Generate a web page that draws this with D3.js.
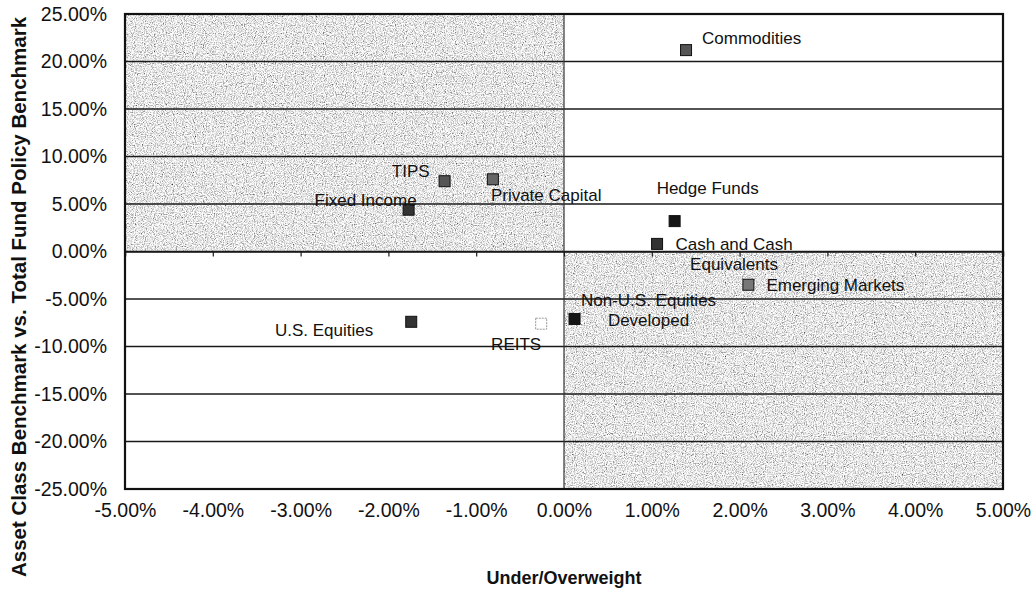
<!DOCTYPE html>
<html>
<head>
<meta charset="utf-8">
<title>Under/Overweight scatter</title>
<script src="https://d3js.org/d3.v7.min.js"></script>
<style>
  body { margin: 0; background: #fff; }
  text { font-family: "Liberation Sans", Arial, sans-serif; fill: #111; }
</style>
</head>
<body>
<script>

    // data (percent)
    const assetNames = ["Commodities", "TIPS", "Private Capital", "Fixed Income", "Hedge Funds",
        "Cash and Cash Equivalents", "Emerging Markets", "Non-U.S. Equities Developed",
        "U.S. Equities", "REITS"];
    const underOverweight = [1.39, -1.36, -0.81, -1.77, 1.26, 1.06, 2.10, 0.12, -1.74, -0.26];
    const vsPolicy = [21.2, 7.4, 7.6, 4.4, 3.2, 0.8, -3.5, -7.1, -7.4, -7.6];
    const yTicks = [-25, -20, -15, -10, -5, 0, 5, 10, 15, 20, 25];
    const xTicks = [-5, -4, -3, -2, -1, 0, 1, 2, 3, 4, 5];

    // label layout (offsets from the marker, px)
    const labelLayout = [
        {lines: ["Commodities"], dx: 16, dy: -12, anchor: "start"},
        {lines: ["TIPS"], dx: -15, dy: -10, anchor: "end"},
        {lines: ["Private Capital"], dx: -2, dy: 16, anchor: "start"},
        {lines: ["Fixed Income"], dx: 8, dy: -9, anchor: "end"},
        {lines: ["Hedge Funds"], dx: -18, dy: -33, anchor: "start"},
        {lines: ["Cash and Cash", "Equivalents"], dx: 77, dy: 1, anchor: "middle"},
        {lines: ["Emerging Markets"], dx: 18, dy: 1, anchor: "start"},
        {lines: ["Non-U.S. Equities", "Developed"], dx: 74, dy: -18, anchor: "middle"},
        {lines: ["U.S. Equities"], dx: -38, dy: 9, anchor: "end"},
        {lines: ["REITS"], dx: 0, dy: 21, anchor: "end"}
    ];
    const markerFill = ["#555", "#555", "#666", "#333", "#151515", "#333", "#777", "#151515", "#333", "#fff"];

    const width = 1031;
    const height = 592;
    const plotL = 125, plotR = 1003, plotT = 14, plotB = 489;

    const x = d3.scaleLinear().domain([-5, 5]).range([plotL, plotR]);
    const y = d3.scaleLinear().domain([-25, 25]).range([plotB, plotT]);
    const pct = d => d.toFixed(2) + "%";

    const svg = d3.select("body").append("svg")
        .attr("width", width)
        .attr("height", height);

    const defs = svg.append("defs");
    const f = defs.append("filter").attr("id", "grain")
        .attr("x", 0).attr("y", 0).attr("width", 1).attr("height", 1);
    f.append("feTurbulence").attr("type", "fractalNoise").attr("baseFrequency", 0.9)
        .attr("numOctaves", 2).attr("seed", 4).attr("result", "n");
    f.append("feColorMatrix").attr("in", "n").attr("type", "matrix")
        .attr("values", "1.9 0 0 0 -0.16  1.9 0 0 0 -0.16  1.9 0 0 0 -0.16  0 0 0 0 1")
        .attr("result", "g");
    f.append("feComposite").attr("in", "g").attr("in2", "SourceGraphic").attr("operator", "in");

    // shaded quadrants, drawn as 5% bands
    const bands = d3.range(0, 5).map(i => ({x0: -5, x1: 0, y0: i * 5, y1: i * 5 + 5}))
        .concat(d3.range(0, 5).map(i => ({x0: 0, x1: 5, y0: -i * 5 - 5, y1: -i * 5})));

    svg.append("g").selectAll("rect")
        .data(bands)
        .enter()
        .append("rect")
        .attr("x", d => x(d.x0))
        .attr("y", d => y(d.y1))
        .attr("width", d => x(d.x1) - x(d.x0))
        .attr("height", d => y(d.y0) - y(d.y1))
        .attr("fill", "#c8c8c8")
        .attr("filter", "url(#grain)");

    // horizontal grid
    svg.append("g").selectAll("line")
        .data(yTicks)
        .enter()
        .append("line")
        .attr("x1", plotL).attr("x2", plotR)
        .attr("y1", d => y(d)).attr("y2", d => y(d))
        .attr("stroke", "#1a1a1a")
        .attr("stroke-width", 1.4);

    svg.append("line")
        .attr("x1", x(0)).attr("x2", x(0))
        .attr("y1", plotT).attr("y2", plotB)
        .attr("stroke", "#333").attr("stroke-width", 1.2);

    // x axis through zero (ticks only)
    const zeroAxis = svg.append("g")
        .attr("transform", "translate(0," + y(0) + ")")
        .call(d3.axisBottom(x).tickValues(xTicks).tickSize(5).tickFormat(""));
    zeroAxis.select(".domain").attr("stroke", "#1a1a1a").attr("stroke-width", 1.4);
    zeroAxis.selectAll(".tick line").attr("stroke", "#1a1a1a").attr("stroke-width", 1.2);

    // plot border
    svg.append("rect")
        .attr("x", plotL).attr("y", plotT)
        .attr("width", plotR - plotL).attr("height", plotB - plotT)
        .attr("fill", "none").attr("stroke", "#111").attr("stroke-width", 2.2);

    // tick labels
    const yAxis = svg.append("g")
        .attr("transform", "translate(" + plotL + ",0)")
        .call(d3.axisLeft(y).tickValues(yTicks).tickSize(0).tickPadding(18).tickFormat(pct));
    yAxis.select(".domain").remove();
    yAxis.selectAll("text").style("font-size", "19.5px").attr("fill", "#111");

    const xAxis = svg.append("g")
        .attr("transform", "translate(0," + plotB + ")")
        .call(d3.axisBottom(x).tickValues(xTicks).tickSize(0).tickPadding(14).tickFormat(pct));
    xAxis.select(".domain").remove();
    xAxis.selectAll("text").style("font-size", "19.5px").attr("fill", "#111");

    // axis titles
    svg.append("text")
        .attr("transform", "translate(18,297) rotate(-90)")
        .attr("text-anchor", "middle")
        .attr("dominant-baseline", "central")
        .style("font-size", "20.5px")
        .style("font-weight", "bold")
        .text("Asset Class Benchmark vs. Total Fund Policy Benchmark");

    svg.append("text")
        .attr("x", x(0))
        .attr("y", 578)
        .attr("text-anchor", "middle")
        .attr("dominant-baseline", "central")
        .style("font-size", "18px")
        .style("font-weight", "bold")
        .text("Under/Overweight");

    // points
    const pts = assetNames.map((name, i) => ({
        name: name, x: underOverweight[i], y: vsPolicy[i], fill: markerFill[i], label: labelLayout[i]
    }));

    svg.append("g").selectAll("rect")
        .data(pts)
        .enter()
        .append("rect")
        .attr("x", d => x(d.x) - 5.5)
        .attr("y", d => y(d.y) - 5.5)
        .attr("width", 11).attr("height", 11)
        .attr("fill", d => d.fill)
        .attr("stroke", d => d.fill === "#fff" ? "#999" : "#111")
        .attr("stroke-dasharray", d => d.fill === "#fff" ? "2,1" : null)
        .attr("stroke-width", 1);

    const labels = svg.append("g").selectAll("text")
        .data(pts)
        .enter()
        .append("text")
        .attr("text-anchor", d => d.label.anchor)
        .style("font-size", "17px");

    labels.selectAll("tspan")
        .data(d => d.label.lines.map((t, j) => ({t: t, j: j, d: d})))
        .enter()
        .append("tspan")
        .attr("x", o => x(o.d.x) + o.d.label.dx)
        .attr("y", o => y(o.d.y) + o.d.label.dy + o.j * 20)
        .attr("dominant-baseline", "central")
        .text(o => o.t);

</script>
</body>
</html>
